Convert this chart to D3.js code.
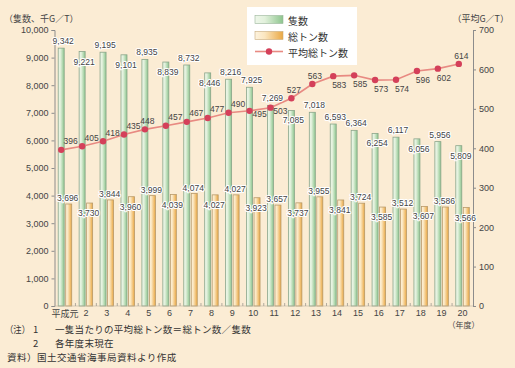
<!DOCTYPE html>
<html><head><meta charset="utf-8">
<script src="https://cdn.jsdelivr.net/npm/d3@7"></script>
<style>
html,body{margin:0;padding:0;background:#fbecd4;}
svg{display:block;}
text{font-family:"Liberation Sans","Noto Sans CJK JP",sans-serif;}
.jp{font-family:"Noto Sans CJK JP","Noto Sans",sans-serif;}
</style></head>
<body>
<svg id="chart" width="515" height="368"></svg>
<script>
const categories = ["平成元","2","3","4","5","6","7","8","9","10","11","12","13","14","15","16","17","18","19","20"];
const ships = [9342,9221,9195,9101,8935,8839,8732,8446,8216,7925,7269,7085,7018,6593,6364,6254,6117,6056,5956,5809];
const tonnage = [3696,3730,3844,3960,3999,4039,4074,4027,4027,3923,3657,3737,3955,3841,3724,3585,3512,3607,3586,3566];
const avgTon = [396,405,418,435,448,457,467,477,490,495,503,527,563,583,585,573,574,596,602,614];
const leftTicks = [0,1000,2000,3000,4000,5000,6000,7000,8000,9000,10000];
const rightTicks = [0,100,200,300,400,500,600,700];
const seriesNames = ["隻数","総トン数","平均総トン数"];
const leftTitle = "（隻数、千G／T）";
const rightTitle = "（平均G／T）";
const xUnit = "（年度）";
const notes = [
  ["（注）","1","一隻当たりの平均総トン数＝総トン数／隻数"],
  ["","2","各年度末現在"]
];
const source = "資料）国土交通省海事局資料より作成";

// label placement config (a = above bar top, b = below bar top)
const shipLabelPos = ["a","b","a","b","a","b","a","b","a","a","a","b","a","a","a","b","a","b","a","b"];
const tonLabelPos = ["a","b","a","b","a","b","a","b","a","b","a","b","a","b","a","b","a","b","a","b"];
const avgLabelPos = ["ur","ur","ur","ur","u","ur","ur","ur","ur","r","r","u","u","dr","dr","dr","dr","dr","dr","u"];

const svg = d3.select("#chart");
const W=515,H=368;
svg.append("rect").attr("width",W).attr("height",H).attr("fill","#fbecd4");

const x = d3.scaleBand().domain(categories).range([54.5,473]);
const yL = d3.scaleLinear().domain([0,10000]).range([306,30]);
const yR = d3.scaleLinear().domain([0,700]).range([306,30]);

const defs = svg.append("defs");
function grad(id, c0, c1, c2){
  const g = defs.append("linearGradient").attr("id",id).attr("x1","0").attr("x2","1").attr("y1","0").attr("y2","0");
  g.append("stop").attr("offset","0").attr("stop-color",c0);
  g.append("stop").attr("offset","0.35").attr("stop-color",c1);
  g.append("stop").attr("offset","1").attr("stop-color",c2);
}
grad("gGreen","#eef7ea","#e2f1dc","#8dc58e");
grad("gOrange","#fdf3df","#fbe6bf","#eaa844");

const bw = 6, gap = 0.75;
const cx = d => x(d) + x.bandwidth()/2;

// green bars
svg.append("g").selectAll("rect").data(ships).join("rect")
  .attr("x",(d,i)=>cx(categories[i]) - gap - bw)
  .attr("width",bw)
  .attr("y",d=>yL(d)).attr("height",d=>yL(0)-yL(d))
  .attr("fill","url(#gGreen)").attr("stroke","#8aa58a").attr("stroke-width",0.8);
// orange bars
svg.append("g").selectAll("rect").data(tonnage).join("rect")
  .attr("x",(d,i)=>cx(categories[i]) + gap)
  .attr("width",bw)
  .attr("y",d=>yL(d)).attr("height",d=>yL(0)-yL(d))
  .attr("fill","url(#gOrange)").attr("stroke","#b89a6a").attr("stroke-width",0.8);

// left axis
const axL = svg.append("g").attr("transform","translate(54.5,0)")
  .call(d3.axisLeft(yL).tickValues(leftTicks).tickSize(3).tickPadding(3).tickFormat(d3.format(",")));
axL.select(".domain").attr("stroke","#8c8c8c");
axL.selectAll(".tick line").attr("stroke","#8c8c8c");
axL.selectAll("text").attr("font-size",9).attr("fill","#444").style("font-family","Liberation Sans, sans-serif");

// right axis
const axR = svg.append("g").attr("transform","translate(473,0)")
  .call(d3.axisRight(yR).tickValues(rightTicks).tickSize(3).tickPadding(3));
axR.select(".domain").attr("stroke","#8c8c8c");
axR.selectAll(".tick line").attr("stroke","#8c8c8c");
axR.selectAll("text").attr("font-size",9).attr("fill","#444").style("font-family","Liberation Sans, sans-serif");

// bottom baseline + small ticks between categories
svg.append("line").attr("x1",54.5).attr("x2",473).attr("y1",306).attr("y2",306).attr("stroke","#bdb3a0").attr("stroke-width",0.6);
svg.append("g").selectAll("line").data(categories.slice(1)).join("line")
  .attr("x1",d=>x(d)).attr("x2",d=>x(d)).attr("y1",306).attr("y2",303)
  .attr("stroke","#a09a90").attr("stroke-width",0.8);

// x labels
svg.append("g").selectAll("text").data(categories).join("text")
  .attr("class",(d,i)=>i===0?"jp":null)
  .attr("x",d=>cx(d)).attr("y",313)
  .attr("text-anchor","middle").attr("dominant-baseline","central")
  .attr("font-size",9).attr("fill","#444").text(d=>d);
svg.append("text").attr("class","jp").attr("x",cx(categories[19])+1).attr("y",324.8)
  .attr("text-anchor","middle").attr("dominant-baseline","central")
  .attr("font-size",8).attr("fill","#444").text(xUnit);

// axis titles
svg.append("text").attr("class","jp").attr("x",4).attr("y",18.3).attr("dominant-baseline","central")
  .attr("font-size",9).attr("fill","#444").text(leftTitle);
svg.append("text").attr("class","jp").attr("x",509).attr("y",18.3).attr("text-anchor","end").attr("dominant-baseline","central")
  .attr("font-size",9).attr("fill","#444").text(rightTitle);

// line
const px = (i)=> cx(categories[i]) - gap - bw/2;
const line = d3.line().x((d,i)=>px(i)).y(d=>yR(d));
svg.append("path").datum(avgTon).attr("d",line).attr("fill","none").attr("stroke","#e88a82").attr("stroke-width",1.6);
svg.append("g").selectAll("circle").data(avgTon).join("circle")
  .attr("cx",(d,i)=>px(i)).attr("cy",d=>yR(d)).attr("r",3.2).attr("fill","#d4405a");

// labels with halo
function halo(sel){
  return sel.attr("stroke","#fff").attr("stroke-width",2.2).attr("stroke-linejoin","round").attr("paint-order","stroke");
}
const fmt = d3.format(",");
halo(svg.append("g").selectAll("text").data(ships).join("text")
  .attr("x",(d,i)=>cx(categories[i]) - gap - bw/2 + 2)
  .attr("y",(d,i)=> shipLabelPos[i]==="a" ? yL(d)-7 : yL(d)+10)
  .attr("text-anchor","middle").attr("dominant-baseline","central")
  .attr("font-size",8.5).attr("fill","#444").text(d=>fmt(d)));
halo(svg.append("g").selectAll("text").data(tonnage).join("text")
  .attr("x",(d,i)=>cx(categories[i]) + gap + bw/2 - 1)
  .attr("y",(d,i)=> tonLabelPos[i]==="a" ? yL(d)-6 : yL(d)+10)
  .attr("text-anchor","middle").attr("dominant-baseline","central")
  .attr("font-size",8.5).attr("fill","#444").text(d=>fmt(d)));
const off = {ur:[9.5,-8.5], u:[2.5,-8], r:[10,3.5], dr:[6,9]};
svg.append("g").selectAll("text").data(avgTon).join("text")
  .attr("x",(d,i)=>px(i)+off[avgLabelPos[i]][0])
  .attr("y",(d,i)=>yR(d)+off[avgLabelPos[i]][1])
  .attr("text-anchor","middle").attr("dominant-baseline","central")
  .attr("font-size",8.5).attr("fill","#444").text(d=>d);

// legend
const lg = svg.append("g");
lg.append("rect").attr("x",247).attr("y",7).attr("width",110).attr("height",58).attr("fill","#fff");
lg.append("rect").attr("x",255).attr("y",15.5).attr("width",28).attr("height",8).attr("fill","url(#gGreen)").attr("stroke","#9ab59a").attr("stroke-width",0.6);
lg.append("rect").attr("x",255).attr("y",31.5).attr("width",28).attr("height",8).attr("fill","url(#gOrange)").attr("stroke","#c8aa7a").attr("stroke-width",0.6);
lg.append("line").attr("x1",255).attr("x2",283).attr("y1",51.5).attr("y2",51.5).attr("stroke","#e88a82").attr("stroke-width",1.6);
lg.append("circle").attr("cx",269).attr("cy",51.5).attr("r",3.2).attr("fill","#d4405a");
lg.selectAll("text.lt").data(seriesNames).join("text").attr("class","jp lt")
  .attr("x",288).attr("y",(d,i)=>[20,36,52][i]).attr("dominant-baseline","central")
  .attr("font-size",10).attr("fill","#333").text(d=>d);

// notes
const ng = svg.append("g");
notes.forEach((n,i)=>{
  const yy = 328.5 + i*14;
  if(n[0]) ng.append("text").attr("class","jp").attr("x",5).attr("y",yy).attr("dominant-baseline","central")
    .attr("font-size",9.5).attr("textLength",25).attr("lengthAdjust","spacingAndGlyphs").attr("fill","#333").text(n[0]);
  ng.append("text").attr("class","jp").attr("x",33).attr("y",yy).attr("dominant-baseline","central").attr("font-size",9.5).attr("fill","#333").text(n[1]);
  ng.append("text").attr("class","jp").attr("x",55).attr("y",yy).attr("dominant-baseline","central").attr("font-size",9.5).attr("letter-spacing",0.3).attr("fill","#333").text(n[2]);
});
ng.append("text").attr("class","jp").attr("x",7).attr("y",356.5).attr("dominant-baseline","central").attr("font-size",9.5).attr("letter-spacing",0.5).attr("fill","#333").text(source);
</script>
</body></html>
